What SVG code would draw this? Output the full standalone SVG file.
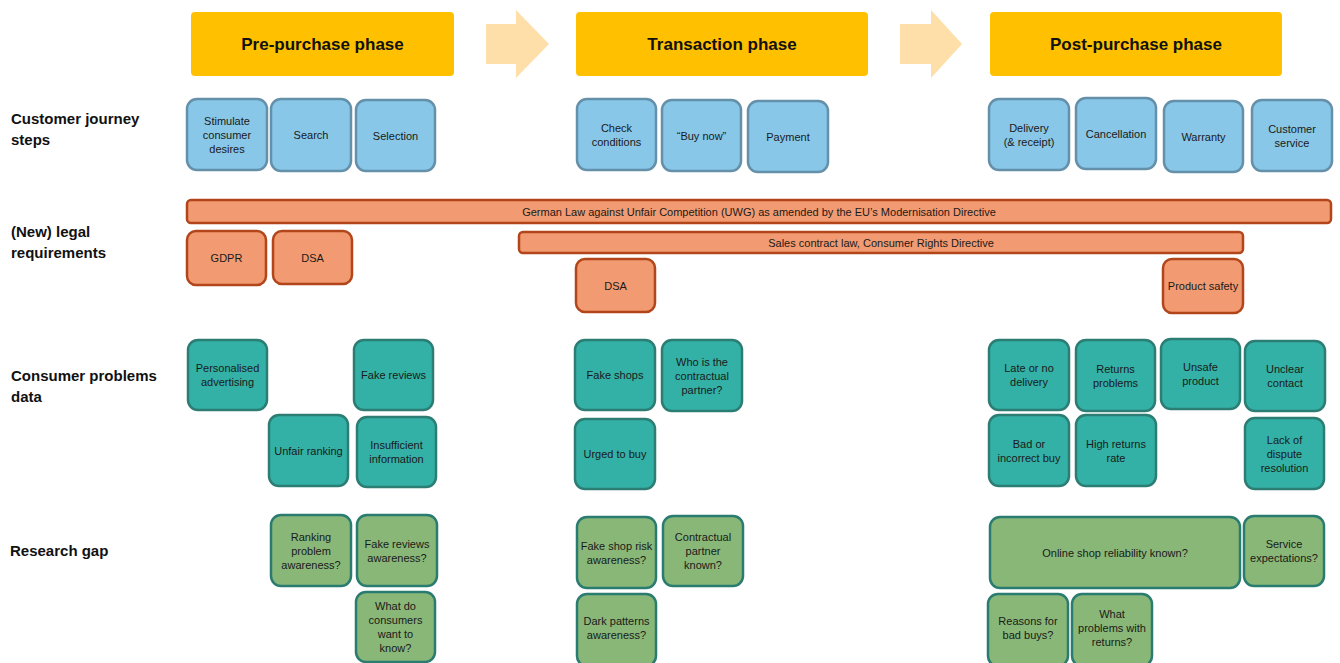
<svg xmlns="http://www.w3.org/2000/svg" width="1340" height="663" viewBox="0 0 1340 663">
<style>
text{font-family:"Liberation Sans",Arial,sans-serif;fill:#1a1a1a}
.n text{font-size:11px;text-anchor:middle}
.ph rect{fill:#FFC000}
.ph text{font-size:17px;font-weight:bold;text-anchor:middle;fill:#111}
.lbl{font-size:15px;font-weight:bold;fill:#111}
.b rect{fill:#88C7E8;stroke:#6590AA;stroke-width:2.5}
.o rect{fill:#F29A71;stroke:#B2461A;stroke-width:2.5}
.t rect{fill:#33B1A6;stroke:#2C7D73;stroke-width:2.5}
.g rect{fill:#89B778;stroke:#2B7C70;stroke-width:2.5}
.flow{fill:#FFDFA9}
</style>
<rect width="1340" height="663" fill="#fff"/>

<g id="phases">
<g id="ph-pre" class="ph"><rect x="191" y="12" width="263" height="64" rx="4"/><text x="322.5" y="50">Pre-purchase phase</text></g>
<g id="ph-trans" class="ph"><rect x="576" y="12" width="292" height="64" rx="4"/><text x="722" y="50">Transaction phase</text></g>
<g id="ph-post" class="ph"><rect x="990" y="12" width="292" height="64" rx="4"/><text x="1136" y="50">Post-purchase phase</text></g>
</g>

<g id="connectors">
<polygon class="flow" points="486,24 516,24 516,10 549,44 516,78 516,64 486,64"/>
<polygon class="flow" points="900,24 931,24 931,10 962,44 931,78 931,64 900,64"/>
</g>

<g id="row-labels">
<text class="lbl" x="11" y="124">Customer journey</text>
<text class="lbl" x="11" y="145">steps</text>
<text class="lbl" x="11" y="237">(New) legal</text>
<text class="lbl" x="11" y="258">requirements</text>
<text class="lbl" x="11" y="381">Consumer problems</text>
<text class="lbl" x="11" y="402">data</text>
<text class="lbl" x="10" y="556">Research gap</text>
</g>

<!-- Customer journey steps -->
<g id="n-stimulate" class="n b"><rect x="187" y="99" width="80" height="71" rx="10"/><text x="227" y="124.5">Stimulate</text><text x="227" y="138.5">consumer</text><text x="227" y="152.5">desires</text></g>
<g id="n-search" class="n b"><rect x="271" y="99" width="80" height="72" rx="10"/><text x="311" y="139">Search</text></g>
<g id="n-selection" class="n b"><rect x="356" y="100" width="79" height="71" rx="10"/><text x="395.5" y="139.5">Selection</text></g>
<g id="n-check" class="n b"><rect x="577" y="99" width="79" height="71" rx="10"/><text x="616.5" y="131.5">Check</text><text x="616.5" y="145.5">conditions</text></g>
<g id="n-buynow" class="n b"><rect x="662" y="100" width="79" height="71" rx="10"/><text x="701.5" y="139.5">“Buy now”</text></g>
<g id="n-payment" class="n b"><rect x="748" y="101" width="80" height="71" rx="10"/><text x="788" y="140.5">Payment</text></g>
<g id="n-delivery" class="n b"><rect x="989" y="99" width="80" height="71" rx="10"/><text x="1029" y="131.5">Delivery</text><text x="1029" y="145.5">(&amp; receipt)</text></g>
<g id="n-cancellation" class="n b"><rect x="1076" y="98" width="80" height="71" rx="10"/><text x="1116" y="137.5">Cancellation</text></g>
<g id="n-warranty" class="n b"><rect x="1164" y="101" width="79" height="71" rx="10"/><text x="1203.5" y="140.5">Warranty</text></g>
<g id="n-custservice" class="n b"><rect x="1252" y="100" width="80" height="71" rx="10"/><text x="1292" y="132.5">Customer</text><text x="1292" y="146.5">service</text></g>

<!-- Legal requirements -->
<g id="n-uwg" class="n o"><rect x="187" y="200" width="1144" height="23" rx="4"/><text x="759" y="215.5">German Law against Unfair Competition (UWG) as amended by the EU’s Modernisation Directive</text></g>
<g id="n-sales" class="n o"><rect x="519" y="232" width="724" height="21" rx="4"/><text x="881" y="246.5">Sales contract law, Consumer Rights Directive</text></g>
<g id="n-gdpr" class="n o"><rect x="187" y="231" width="79" height="54" rx="9"/><text x="226.5" y="262">GDPR</text></g>
<g id="n-dsa1" class="n o"><rect x="273" y="231" width="79" height="53" rx="9"/><text x="312.5" y="261.5">DSA</text></g>
<g id="n-dsa2" class="n o"><rect x="576" y="259" width="79" height="53" rx="9"/><text x="615.5" y="289.5">DSA</text></g>
<g id="n-productsafety" class="n o"><rect x="1163" y="259" width="80" height="54" rx="9"/><text x="1203" y="290">Product safety</text></g>

<!-- Consumer problems data -->
<g id="n-personalised" class="n t"><rect x="188" y="340" width="79" height="70" rx="10"/><text x="227.5" y="372">Personalised</text><text x="227.5" y="386">advertising</text></g>
<g id="n-fakereviews" class="n t"><rect x="354" y="340" width="79" height="70" rx="10"/><text x="393.5" y="379">Fake reviews</text></g>
<g id="n-unfairranking" class="n t"><rect x="269" y="415" width="79" height="71" rx="10"/><text x="308.5" y="454.5">Unfair ranking</text></g>
<g id="n-insufficient" class="n t"><rect x="357" y="417" width="79" height="70" rx="10"/><text x="396.5" y="449">Insufficient</text><text x="396.5" y="463">information</text></g>
<g id="n-fakeshops" class="n t"><rect x="575" y="340" width="80" height="70" rx="10"/><text x="615" y="379">Fake shops</text></g>
<g id="n-whoispartner" class="n t"><rect x="662" y="340" width="80" height="71" rx="10"/><text x="702" y="365.5">Who is the</text><text x="702" y="379.5">contractual</text><text x="702" y="393.5">partner?</text></g>
<g id="n-urged" class="n t"><rect x="575" y="419" width="80" height="70" rx="10"/><text x="615" y="458">Urged to buy</text></g>
<g id="n-late" class="n t"><rect x="989" y="340" width="80" height="70" rx="10"/><text x="1029" y="372">Late or no</text><text x="1029" y="386">delivery</text></g>
<g id="n-returnsproblems" class="n t"><rect x="1076" y="340" width="79" height="71" rx="10"/><text x="1115.5" y="372.5">Returns</text><text x="1115.5" y="386.5">problems</text></g>
<g id="n-unsafe" class="n t"><rect x="1161" y="339" width="79" height="70" rx="10"/><text x="1200.5" y="371">Unsafe</text><text x="1200.5" y="385">product</text></g>
<g id="n-unclear" class="n t"><rect x="1245" y="341" width="80" height="70" rx="10"/><text x="1285" y="373">Unclear</text><text x="1285" y="387">contact</text></g>
<g id="n-badbuy" class="n t"><rect x="989" y="415" width="80" height="71" rx="10"/><text x="1029" y="447.5">Bad or</text><text x="1029" y="461.5">incorrect buy</text></g>
<g id="n-highreturns" class="n t"><rect x="1076" y="415" width="80" height="71" rx="10"/><text x="1116" y="447.5">High returns</text><text x="1116" y="461.5">rate</text></g>
<g id="n-lackdispute" class="n t"><rect x="1245" y="418" width="79" height="71" rx="10"/><text x="1284.5" y="443.5">Lack of</text><text x="1284.5" y="457.5">dispute</text><text x="1284.5" y="471.5">resolution</text></g>

<!-- Research gap -->
<g id="n-rankingaw" class="n g"><rect x="271" y="515" width="80" height="71" rx="10"/><text x="311" y="540.5">Ranking</text><text x="311" y="554.5">problem</text><text x="311" y="568.5">awareness?</text></g>
<g id="n-fakerevaw" class="n g"><rect x="357" y="515" width="80" height="71" rx="10"/><text x="397" y="547.5">Fake reviews</text><text x="397" y="561.5">awareness?</text></g>
<g id="n-whatdo" class="n g"><rect x="356" y="592" width="79" height="70" rx="10"/><text x="395.5" y="610">What do</text><text x="395.5" y="624">consumers</text><text x="395.5" y="638">want to</text><text x="395.5" y="652">know?</text></g>
<g id="n-fakeshoprisk" class="n g"><rect x="577" y="517" width="79" height="71" rx="10"/><text x="616.5" y="549.5">Fake shop risk</text><text x="616.5" y="563.5">awareness?</text></g>
<g id="n-contractualknown" class="n g"><rect x="663" y="516" width="80" height="70" rx="10"/><text x="703" y="541">Contractual</text><text x="703" y="555">partner</text><text x="703" y="569">known?</text></g>
<g id="n-darkpatterns" class="n g"><rect x="577" y="594" width="79" height="72" rx="10"/><text x="616.5" y="625">Dark patterns</text><text x="616.5" y="639">awareness?</text></g>
<g id="n-onlineshop" class="n g"><rect x="990" y="517" width="250" height="71" rx="10"/><text x="1115" y="556.5">Online shop reliability known?</text></g>
<g id="n-service" class="n g"><rect x="1244" y="516" width="80" height="70" rx="10"/><text x="1284" y="548">Service</text><text x="1284" y="562">expectations?</text></g>
<g id="n-reasons" class="n g"><rect x="988" y="594" width="80" height="72" rx="10"/><text x="1028" y="625">Reasons for</text><text x="1028" y="639">bad buys?</text></g>
<g id="n-whatproblems" class="n g"><rect x="1072" y="594" width="80" height="72" rx="10"/><text x="1112" y="618">What</text><text x="1112" y="632">problems with</text><text x="1112" y="646">returns?</text></g>
</svg>
